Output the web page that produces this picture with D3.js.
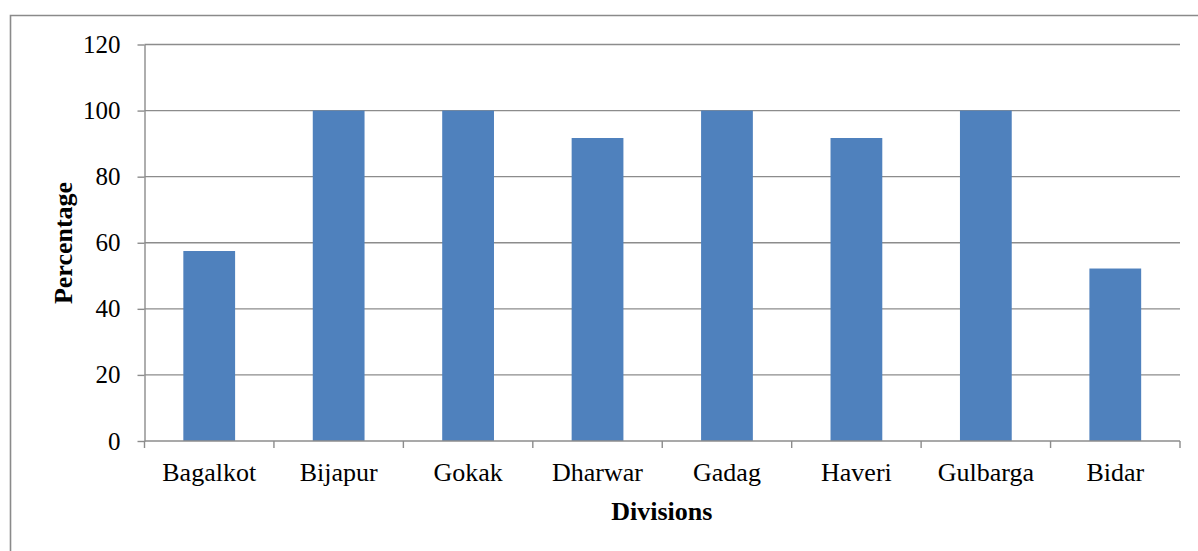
<!DOCTYPE html>
<html>
<head>
<meta charset="utf-8">
<script src="https://cdn.jsdelivr.net/npm/d3@7"></script>
<style>
  html, body { margin: 0; padding: 0; background: #fff; }
  svg { display: block; font-family: "Liberation Serif", "Times New Roman", serif; }
</style>
</head>
<body>
<svg id="chart" width="1198" height="551"></svg>
<script>
// Share of each division (percentage)
const divisions = ["Bagalkot", "Bijapur", "Gokak", "Dharwar", "Gadag", "Haveri", "Gulbarga", "Bidar"];
const percentages = [57.5, 100, 100, 91.7, 100, 91.7, 100, 52.2];
const yTicks = [0, 20, 40, 60, 80, 100, 120];

const svg = d3.select("#chart");
const W = 1198, H = 551;
const plot = { left: 144.5, right: 1180, top: 44.5, bottom: 441 };
const gridColor = "#8c8c8c";
const serif = "Liberation Serif, Times New Roman, serif";

// outer frame (top and left edges visible)
svg.append("path")
  .attr("d", `M10.5,${H + 5} L10.5,15.5 L${W + 5},15.5`)
  .attr("fill", "none")
  .attr("stroke", "#8a8a8a")
  .attr("stroke-width", 1.6);

const x = d3.scaleBand().domain(divisions).range([plot.left, plot.right]).paddingInner(0.6).paddingOuter(0.3);
const band = d3.scaleBand().domain(divisions).range([plot.left, plot.right]);
const y = d3.scaleLinear().domain([0, 120]).range([plot.bottom, plot.top]);

// horizontal gridlines
svg.append("g")
  .selectAll("line")
  .data(yTicks.filter(d => d > 0))
  .join("line")
  .attr("x1", plot.left).attr("x2", plot.right)
  .attr("y1", d => y(d)).attr("y2", d => y(d))
  .attr("stroke", gridColor).attr("stroke-width", 1.4);

// bars
svg.append("g")
  .selectAll("rect")
  .data(divisions)
  .join("rect")
  .attr("x", d => x(d))
  .attr("width", x.bandwidth())
  .attr("y", (d, i) => y(percentages[i]))
  .attr("height", (d, i) => y(0) - y(percentages[i]))
  .attr("fill", "#4f81bd");

// y axis
const yAxis = svg.append("g")
  .attr("transform", `translate(${plot.left},0)`)
  .call(d3.axisLeft(y).tickValues(yTicks).tickSize(7).tickPadding(17).tickSizeOuter(0));
yAxis.select(".domain").attr("stroke", gridColor).attr("stroke-width", 1.4);
yAxis.selectAll(".tick line").attr("stroke", gridColor).attr("stroke-width", 1.4);
yAxis.selectAll(".tick text")
  .attr("font-family", serif)
  .attr("font-size", 25).attr("fill", "#000");

// x axis with ticks at category boundaries
const xAxisG = svg.append("g");
xAxisG.append("line")
  .attr("x1", plot.left).attr("x2", plot.right)
  .attr("y1", plot.bottom).attr("y2", plot.bottom)
  .attr("stroke", gridColor).attr("stroke-width", 1.4);
const boundaries = divisions.map(d => band(d)).concat([plot.right]);
xAxisG.selectAll("line.tk")
  .data(boundaries)
  .join("line")
  .attr("class", "tk")
  .attr("x1", d => d).attr("x2", d => d)
  .attr("y1", plot.bottom).attr("y2", plot.bottom + 7)
  .attr("stroke", gridColor).attr("stroke-width", 1.4);
xAxisG.selectAll("text")
  .data(divisions)
  .join("text")
  .attr("x", d => band(d) + band.bandwidth() / 2)
  .attr("y", 481)
  .attr("text-anchor", "middle")
  .attr("font-family", serif)
  .attr("font-size", 26)
  .attr("fill", "#000")
  .text(d => d);

// axis titles
svg.append("text")
  .attr("x", (plot.left + plot.right) / 2 - 0.5)
  .attr("y", 520)
  .attr("text-anchor", "middle")
  .attr("font-family", serif)
  .attr("font-size", 26).attr("font-weight", "bold")
  .text("Divisions");

svg.append("text")
  .attr("transform", `translate(72,243) rotate(-90)`)
  .attr("text-anchor", "middle")
  .attr("font-family", serif)
  .attr("font-size", 26).attr("font-weight", "bold")
  .text("Percentage");
</script>
</body>
</html>
